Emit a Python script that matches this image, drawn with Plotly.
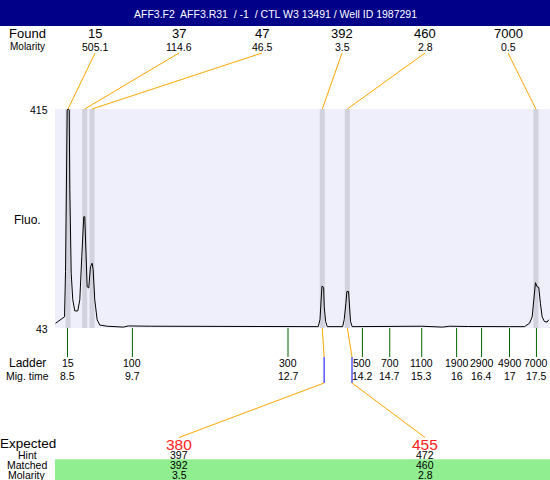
import plotly.graph_objects as go
import numpy as np

# ---------------- data ----------------
title_text = "AFF3.F2  AFF3.R31  / -1  / CTL W3 13491 / Well ID 1987291"

mig_time = [8.270, 8.366, 8.443, 8.462, 8.481, 8.494, 8.513, 8.533, 8.544, 8.571,
            8.601, 8.640, 8.697, 8.736, 8.774, 8.801, 8.812, 8.831, 8.850, 8.877,
            8.908, 8.940, 8.973, 8.992, 9.023, 9.069, 9.119, 9.260, 9.572, 9.668,
            10.09, 11.047, 12.004, 12.962, 13.312, 13.345, 13.364, 13.383, 13.416, 13.427,
            13.454, 13.485, 13.780, 13.810, 13.843, 13.862, 13.894, 13.906, 13.932, 13.963,
            14.877, 15.30, 15.70, 15.834, 16.20, 16.792, 16.983, 17.270, 17.366, 17.418,
            17.448, 17.481, 17.513, 17.544, 17.576, 17.609, 17.653, 17.704, 17.735]
fluo = [51, 57, 62, 139, 278, 413, 415, 413, 278, 136,
        91, 72, 72, 91, 164, 221, 232, 232, 164, 113,
        111, 147, 153, 142, 91, 57, 48, 46, 44.5, 46.5,
        46, 45.5, 45.5, 45, 45.3, 57, 79, 114, 112, 79,
        54, 45.3, 45.3, 57, 85, 105, 105, 79, 54, 45.3,
        45.5, 46, 44.5, 46, 45.5, 44.5, 45.3, 45.3, 51, 62,
        96, 120, 113, 112, 85, 62, 54, 53, 57]

y_ticks = [43, 415]

found_sizes = ["15", "37", "47", "392", "460", "7000"]
found_molarity = ["505.1", "114.6", "46.5", "3.5", "2.8", "0.5"]
found_times = [8.51, 8.83, 8.97, 13.39, 13.87, 17.49]

ladder_sizes = [15, 100, 300, 500, 700, 1100, 1900, 2900, 4900, 7000]
ladder_times = [8.50, 9.745, 12.732, 14.16, 14.685, 15.298, 15.968, 16.447, 16.983, 17.50]
ladder_time_labels = ["8.5", "9.7", "12.7", "14.2", "14.7", "15.3", "16", "16.4", "17", "17.5"]

expected_sizes = ["380", "455"]
hint_sizes = [397, 472]
matched_sizes = ["392", "460"]
matched_molarity = ["3.5", "2.8"]
matched_found_index = [3, 4]

# ---------------- layout constants ----------------
W, H = 550, 480
PL, PR, PT, PB = 55, 550, 109, 328          # plot area in pixels
X_RANGE = [8.26, 17.76]
FONT = "Liberation Sans, Arial, sans-serif"
ORANGE = "#FFA500"
found_cols_px = [95, 179, 262, 342, 425, 508]
expected_cols = [1, 4]


def px_x(px):
    return px / W


def px_y(py):
    return 1 - py / H


def col_time(px):
    return X_RANGE[0] + (px - PL) / (PR - PL) * (X_RANGE[1] - X_RANGE[0])


fig = go.Figure()
fig.add_trace(go.Scatter(x=mig_time, y=fluo, mode="lines",
                         line=dict(color="black", width=1), hoverinfo="skip"))

shapes = []
annotations = []


def text(s, px, py, size, color="black", xref="paper", xanchor="center"):
    annotations.append(dict(text=s, x=px_x(px) if xref == "paper" else px, y=px_y(py),
                            xref=xref, yref="paper", showarrow=False, xanchor=xanchor,
                            yanchor="middle", borderpad=0,
                            font=dict(family=FONT, size=size, color=color)))


# title bar
shapes.append(dict(type="rect", xref="paper", yref="paper", x0=0, x1=1, y0=px_y(26), y1=1,
                   fillcolor="#000088", line_width=0, layer="below"))
text(title_text, 275, 14, 10.5, color="white")

# found peak bands
for t in found_times:
    shapes.append(dict(type="rect", xref="x", yref="y", x0=t - 0.048, x1=t + 0.048,
                       y0=y_ticks[0], y1=y_ticks[1], fillcolor="#d2d2de", line_width=0,
                       layer="below"))

# found labels and connectors
text("Found", 27, 34, 13)
text("Molarity", 27, 47, 10)
for i, t in enumerate(found_times):
    text(found_sizes[i], found_cols_px[i], 34, 13)
    text(found_molarity[i], found_cols_px[i], 47, 10.5)
    shapes.append(dict(type="line", xref="x", yref="paper", x0=t, y0=px_y(PT),
                       x1=col_time(found_cols_px[i]), y1=px_y(53),
                       line=dict(color=ORANGE, width=1)))

# y tick labels
for v in y_ticks:
    annotations.append(dict(text=str(v), x=px_x(49), y=v, xref="paper", yref="y",
                            showarrow=False, xanchor="right", yanchor="middle", yshift=-1,
                            borderpad=0, font=dict(family=FONT, size=10.5, color="black")))
text("Fluo.", 27, 220, 12)

# ladder
text("Ladder", 27, 363, 12)
text("Mig. time", 27, 376, 10.5)
for s, t, lab in zip(ladder_sizes, ladder_times, ladder_time_labels):
    shapes.append(dict(type="line", xref="x", yref="paper", x0=t, x1=t, y0=px_y(PB), y1=px_y(357),
                       line=dict(color="#006400", width=1)))
    text(str(s), t, 363, 10.5, xref="x")
    text(lab, t, 376, 10.5, xref="x")

# expected / matched
hint_times = np.interp(hint_sizes, ladder_sizes, ladder_times)
for k, fi in enumerate(matched_found_index):
    ft = found_times[fi]
    ht = hint_times[k]
    colpx = found_cols_px[expected_cols[k]]
    shapes.append(dict(type="line", xref="x", yref="paper", x0=ft, y0=px_y(PB), x1=ht, y1=px_y(357),
                       line=dict(color=ORANGE, width=1)))
    shapes.append(dict(type="line", xref="x", yref="paper", x0=ht, y0=px_y(357), x1=ht, y1=px_y(383),
                       line=dict(color="#0000FF", width=1)))
    shapes.append(dict(type="line", xref="x", yref="paper", x0=ht, y0=px_y(383),
                       x1=col_time(colpx), y1=px_y(437.5), line=dict(color=ORANGE, width=1)))

shapes.append(dict(type="rect", xref="paper", yref="paper", x0=px_x(PL), x1=1, y0=0, y1=px_y(459.3),
                   fillcolor="#90EE90", line_width=0, layer="below"))
text("Expected", 27.5, 443.5, 13.5)
text("Hint", 27, 454.5, 10.5)
text("Matched", 27, 465, 10.5)
text("Molarity", 27, 475, 10.5)
for k in range(len(expected_sizes)):
    cx = found_cols_px[expected_cols[k]]
    text(expected_sizes[k], cx, 444, 15.5, color="#FF2020")
    text(str(hint_sizes[k]), cx, 454.5, 10.5)
    text(matched_sizes[k], cx, 465, 10.5)
    text(matched_molarity[k], cx, 475, 10.5)

fig.update_layout(
    width=W, height=H, margin=dict(l=0, r=0, t=0, b=0),
    paper_bgcolor="white", plot_bgcolor="#efeffb",
    showlegend=False,
    xaxis=dict(domain=[px_x(PL), px_x(PR)], range=X_RANGE, visible=False, fixedrange=True),
    yaxis=dict(domain=[px_y(PB), px_y(PT)], range=[y_ticks[0], y_ticks[1]], visible=False,
               fixedrange=True),
    shapes=shapes, annotations=annotations,
)

fig.write_html("out.html", config={"displayModeBar": False},
               post_script="document.body.style.margin='0px';document.body.style.padding='0px';")
